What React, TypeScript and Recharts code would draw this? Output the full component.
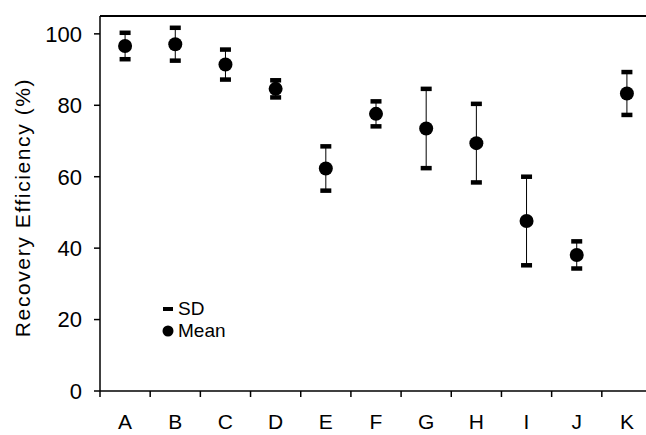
import React from 'react';
import {
  ScatterChart,
  Scatter,
  XAxis,
  YAxis,
  ErrorBar,
  ReferenceLine,
  Legend,
} from 'recharts';

const categories = ['A', 'B', 'C', 'D', 'E', 'F', 'G', 'H', 'I', 'J', 'K'];
const meanValues = [96.6, 97.1, 91.4, 84.6, 62.3, 77.6, 73.5, 69.4, 47.6, 38.1, 83.3];
const sdValues = [3.7, 4.6, 4.2, 2.4, 6.2, 3.5, 11.1, 11.0, 12.4, 3.8, 6.0];
const yTicks = [0, 20, 40, 60, 80, 100];
const yMax = 105;

const FONT = '"Liberation Sans", Arial, sans-serif';

// x positions sit in the middle of each band, band edges carry the tick marks
const meanPts = categories.map((c, i) => ({ x: i + 0.5, y: meanValues[i], sd: sdValues[i], name: c }));
const upperPts = categories.map((c, i) => ({ x: i + 0.5, y: meanValues[i] + sdValues[i] }));
const lowerPts = categories.map((c, i) => ({ x: i + 0.5, y: meanValues[i] - sdValues[i] }));
const edgeTicks = categories.map((_, i) => i).concat(categories.length);

const Dot = (p: any) => <circle cx={p.cx} cy={p.cy} r={7} fill="#000" />;
const Cap = (p: any) => (
  <rect x={p.cx - 5.5} y={p.cy - 2.25} width={11} height={4.5} fill="#000" />
);

// tick marks sit on band edges, the letter goes half a band to the right
const BandTick = (p: any) => {
  const v = p.payload.value;
  if (v >= categories.length) return null;
  const half = p.width / categories.length / 2;
  return (
    <text
      x={p.x + half}
      y={p.y}
      dy="0.71em"
      textAnchor="middle"
      fontSize={21}
      fontFamily={FONT}
      fill="#000"
    >
      {categories[v]}
    </text>
  );
};

const YLabel = (props: any) => {
  const vb = props.viewBox || { x: 0, y: 0, width: 100, height: 375 };
  const cx = vb.x + 22;
  const cy = vb.y + vb.height / 2 + 4;
  return (
    <text
      x={cx}
      y={cy}
      transform={`rotate(-90 ${cx} ${cy})`}
      textAnchor="middle"
      dominantBaseline="central"
      fontSize={21}
      fontFamily={FONT}
      letterSpacing={1.6}
      fill="#000"
    >
      Recovery Efficiency (%)
    </text>
  );
};

const LegendBox = () => (
  <div style={{ fontFamily: FONT, fontSize: 19, color: '#000', lineHeight: '22px' }}>
    <div style={{ display: 'flex', alignItems: 'center', height: 22 }}>
      <svg width={14} height={22}>
        <rect x={2} y={9} width={10} height={4} fill="#000" />
      </svg>
      <span style={{ marginLeft: 3 }}>SD</span>
    </div>
    <div style={{ display: 'flex', alignItems: 'center', height: 22 }}>
      <svg width={14} height={22}>
        <circle cx={7} cy={11} r={5.5} fill="#000" />
      </svg>
      <span style={{ marginLeft: 3 }}>Mean</span>
    </div>
  </div>
);

export default function App() {
  return (
    <div
      style={{
        position: 'absolute',
        left: 0,
        top: 0,
        width: 646,
        height: 435,
        overflow: 'hidden',
        background: '#fff',
      }}
    >
      <ScatterChart width={670} height={435} margin={{ top: 16, right: 18, bottom: 0, left: 0 }}>
        <XAxis
          type="number"
          dataKey="x"
          domain={[0, categories.length]}
          ticks={edgeTicks}
          tick={<BandTick />}
          tickSize={6}
          tickMargin={17}
          height={44}
          stroke="#000"
          strokeWidth={1.5}
        />
        <YAxis
          type="number"
          dataKey="y"
          domain={[0, yMax]}
          ticks={yTicks}
          tickSize={6}
          tickMargin={12}
          width={100}
          stroke="#000"
          strokeWidth={1.5}
          tick={{ fill: '#000', fontSize: 22, fontFamily: FONT }}
          label={<YLabel />}
        />
        <ReferenceLine y={yMax} stroke="#000" strokeWidth={2} />
        <Scatter data={meanPts} shape={<Dot />} isAnimationActive={false}>
          <ErrorBar dataKey="sd" direction="y" width={0} stroke="#000" strokeWidth={1} isAnimationActive={false} />
        </Scatter>
        <Scatter data={upperPts} shape={<Cap />} isAnimationActive={false} />
        <Scatter data={lowerPts} shape={<Cap />} isAnimationActive={false} />
        <Legend
          layout="vertical"
          align="center"
          verticalAlign="middle"
          content={<LegendBox />}
          wrapperStyle={{ left: 161, top: 298, width: 'auto' }}
        />
      </ScatterChart>
    </div>
  );
}
